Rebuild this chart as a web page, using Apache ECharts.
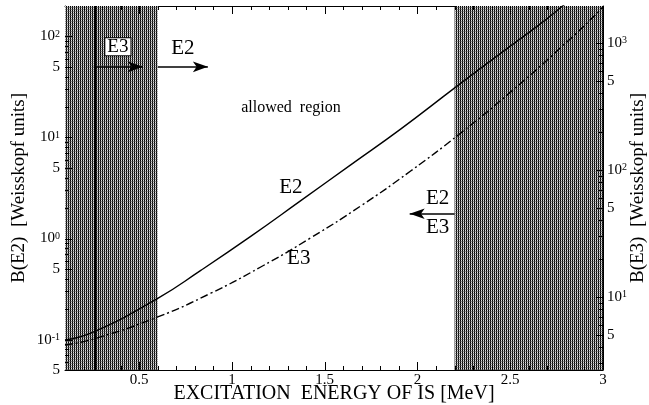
<!DOCTYPE html>
<html>
<head>
<meta charset="utf-8">
<script src="https://cdn.jsdelivr.net/npm/echarts@6/dist/echarts.min.js"></script>
<style>html,body{margin:0;padding:0;background:#fff}#c{width:649px;height:405px}</style>
</head>
<body>
<div id="c"></div>
<script>
// ---- data ----
const energyE2 = [0.1, 0.255, 0.6, 0.832, 1.101, 1.371, 1.640, 1.909, 2.206, 2.448, 2.664, 2.772, 2.85];
const bE2 = [0.099, 0.119, 0.256, 0.484, 1.05, 2.37, 5.36, 12.1, 31.5, 68, 134, 193, 253];
const energyE3 = [0.1, 0.255, 0.6, 0.886, 1.155, 1.425, 1.695, 1.963, 2.233, 2.503, 2.771, 2.987, 3.0];
const bE3 = [4.19, 4.67, 6.96, 10.7, 17.2, 29.2, 52.1, 98, 195, 411, 914, 1820, 1950];
const xRange = [0.1, 3];
const leftRange = [0.05, 200];
const rightRange = [2.66, 1950];
const xMajorTicks = [0.5, 1, 1.5, 2, 2.5, 3];
const xMinorTicks = [0.2,0.3,0.4,0.6,0.7,0.8,0.9,1.1,1.2,1.3,1.4,1.6,1.7,1.8,1.9,2.1,2.2,2.3,2.4,2.6,2.7,2.8,2.9];
const leftLabels = [0.05, 0.1, 0.5, 1, 5, 10, 50, 100];
const leftMinor = [0.06,0.07,0.08,0.09,0.2,0.3,0.4,0.6,0.7,0.8,0.9,2,3,4,6,7,8,9,20,30,40,60,70,80,90];
const rightLabels = [5, 10, 50, 100, 500, 1000];
const rightMinor = [3,4,6,7,8,9,20,30,40,60,70,80,90,200,300,400,600,700,800,900];
const excludedLow = [0.1, 0.6];
const excludedHigh = [2.2, 3.0];
const limitLine = 0.255;
const arrowE3 = [[0.255, 50], [0.52, 50]];
const arrowE2 = [[0.6, 50], [0.87, 50]];
const arrowRight = [[2.2, 1.76], [1.958, 1.76]];
const texts = [
  {t: 'E3', c: [0.385, 79], box: true, size: 19},
  {t: 'E2', c: [0.735, 76], size: 21},
  {t: 'allowed  region', c: [1.318, 19.5], size: 16},
  {t: 'E2', c: [1.318, 3.18], size: 21},
  {t: 'E3', c: [1.36, 0.635], size: 21},
  {t: 'E2', c: [2.109, 2.48], size: 21},
  {t: 'E3', c: [2.109, 1.28], size: 21}
];

const FONT = 'Liberation Serif';
const pc = document.createElement('canvas');
pc.width = 2; pc.height = 2;
const g = pc.getContext('2d');
g.fillStyle = '#000'; g.fillRect(0, 0, 1, 1);
g.fillStyle = '#333'; g.fillRect(0, 1, 1, 1);
g.fillStyle = '#e0e0e0'; g.fillRect(1, 0, 1, 1);
g.fillStyle = '#909090'; g.fillRect(1, 1, 1, 1);
const hatch = {image: pc, repeat: 'repeat'};

function supFmt(v) {
  const l = Math.log10(v);
  const r = Math.round(l);
  if (Math.abs(l - r) < 1e-6) return '10{s|' + r + '}';
  return '5';
}
const rich = {s: {fontSize: 10, fontFamily: FONT, color: '#000', verticalAlign: 'top', lineHeight: 10}};
const lineBlack = {show: true, onZero: false, lineStyle: {color: '#000', width: 1}};
const noTick = {show: false};

const chart = echarts.init(document.getElementById('c'), null, {renderer: 'canvas'});
const option = {
  animation: false,
  backgroundColor: '#fff',
  grid: {left: 65, right: 46, top: 6, bottom: 35, outerBoundsMode: 'none', containLabel: false},
  xAxis: [
    {type: 'value', min: xRange[0], max: xRange[1], position: 'bottom', splitLine: {show: false}, axisLine: lineBlack, axisTick: noTick,
      name: 'EXCITATION  ENERGY OF IS [MeV]', nameLocation: 'middle', nameGap: 14, nameMoveOverlap: false,
      nameTextStyle: {fontFamily: FONT, fontSize: 20, color: '#000'},
      axisLabel: {customValues: xMajorTicks, fontFamily: FONT, fontSize: 15, color: '#000', margin: 3}},
    {type: 'value', min: xRange[0], max: xRange[1], position: 'top', splitLine: {show: false}, axisLine: lineBlack, axisTick: noTick, axisLabel: {show: false}}
  ],
  yAxis: [
    {type: 'log', logBase: 10, min: leftRange[0], max: leftRange[1], position: 'left', splitLine: {show: false}, axisLine: lineBlack, axisTick: noTick,
      name: 'B(E2)  [Weisskopf units]', nameLocation: 'middle', nameGap: 36, nameRotate: 90, nameMoveOverlap: false,
      nameTextStyle: {fontFamily: FONT, fontSize: 19, color: '#000'},
      axisLabel: {customValues: leftLabels, formatter: supFmt, rich: rich, fontFamily: FONT, fontSize: 15, color: '#000', margin: 5}},
    {type: 'log', logBase: 10, min: rightRange[0], max: rightRange[1], position: 'right', splitLine: {show: false}, axisLine: lineBlack, axisTick: noTick,
      name: 'B(E3)  [Weisskopf units]', nameLocation: 'middle', nameGap: 26, nameRotate: 90, nameMoveOverlap: false,
      nameTextStyle: {fontFamily: FONT, fontSize: 19, color: '#000'},
      axisLabel: {customValues: rightLabels, formatter: supFmt, rich: rich, fontFamily: FONT, fontSize: 15, color: '#000', margin: 4}}
  ],
  series: [
    {
      type: 'line', xAxisIndex: 0, yAxisIndex: 0, smooth: true, symbol: 'none', z: 3,
      lineStyle: {color: '#000', width: 1.4},
      data: energyE2.map((e, i) => [e, bE2[i]]),
      markArea: {silent: true, itemStyle: {color: hatch}, data: [
        [{xAxis: excludedLow[0]}, {xAxis: excludedLow[1]}],
        [{xAxis: excludedHigh[0]}, {xAxis: excludedHigh[1]}]
      ]},
      markLine: {silent: true, animation: false, symbol: ['none', 'arrow'], symbolSize: [8, 15], label: {show: false},
        lineStyle: {color: '#000', width: 1.5, type: 'solid'},
        data: [
          [{coord: arrowE3[0]}, {coord: arrowE3[1]}],
          [{coord: arrowE2[0]}, {coord: arrowE2[1]}],
          [{coord: arrowRight[0]}, {coord: arrowRight[1]}]
        ]},
      markPoint: {silent: true, symbol: 'rect', symbolSize: 1, itemStyle: {color: 'rgba(0,0,0,0)'},
        data: texts.map(d => ({coord: d.c, label: {show: true, position: 'inside', formatter: d.t, fontFamily: FONT, fontSize: d.size, color: '#000',
          lineHeight: d.box ? 17 : d.size,
          backgroundColor: d.box ? '#fff' : 'transparent', borderColor: d.box ? '#000' : 'transparent', borderWidth: d.box ? 1 : 0, padding: d.box ? [0, 2] : 0}}))}
    },
    {
      type: 'line', xAxisIndex: 0, yAxisIndex: 1, smooth: true, symbol: 'none', z: 3,
      lineStyle: {color: '#000', width: 1.4, type: [8, 3, 2, 3]},
      data: energyE3.map((e, i) => [e, bE3[i]]),
      markLine: {silent: true, animation: false, symbol: ['none', 'none'], label: {show: false},
        lineStyle: {color: '#000', width: 2, type: 'solid'}, data: [{xAxis: limitLine}]}
    }
  ]
};
chart.setOption(option);

// inward tick marks on all four sides, positioned through the axes' own scales
const MAJ = 7, MIN = 4;
const toX = v => chart.convertToPixel({xAxisIndex: 0}, v);
const toYL = v => chart.convertToPixel({yAxisIndex: 0}, v);
const toYR = v => chart.convertToPixel({yAxisIndex: 1}, v);
const xL = toX(xRange[0]), xR = toX(xRange[1]);
const yB = toYL(leftRange[0]), yT = toYL(leftRange[1]);
const tickEls = [];
function seg(x1, y1, x2, y2) {
  tickEls.push({type: 'line', silent: true, z: 50, shape: {x1: x1, y1: y1, x2: x2, y2: y2}, style: {stroke: '#000', lineWidth: 1}});
}
function xt(v, len) { const x = Math.round(toX(v)) + 0.5; seg(x, yB, x, yB - len); seg(x, yT, x, yT + len); }
function ylt(v, len) { const y = Math.round(toYL(v)) + 0.5; seg(xL, y, xL + len, y); }
function yrt(v, len) { const y = Math.round(toYR(v)) + 0.5; seg(xR, y, xR - len, y); }
xMajorTicks.forEach(v => xt(v, MAJ + 1));
xMinorTicks.forEach(v => xt(v, MIN));
leftLabels.forEach(v => ylt(v, MAJ));
leftMinor.forEach(v => ylt(v, MIN));
rightLabels.forEach(v => yrt(v, MAJ));
rightMinor.forEach(v => yrt(v, MIN));
chart.setOption({graphic: tickEls});
</script>
</body>
</html>
